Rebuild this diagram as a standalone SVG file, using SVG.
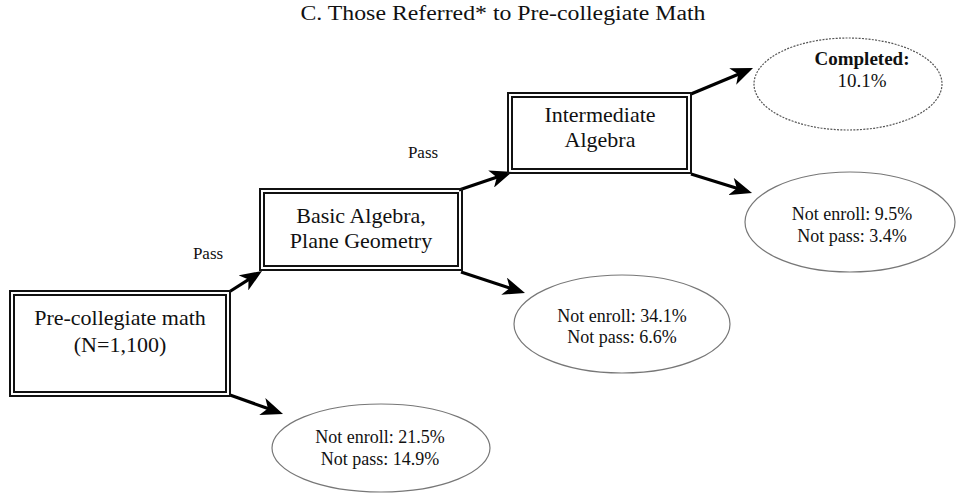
<svg xmlns="http://www.w3.org/2000/svg" width="960" height="494" viewBox="0 0 960 494">
<style>
text{font-family:"Liberation Serif","DejaVu Serif",serif;fill:#111;text-anchor:middle}
.box{fill:none;stroke:#111;stroke-width:2}
.ell{fill:#fff;stroke:#777;stroke-width:1.2}
.dot{stroke-dasharray:2 1.3;stroke:#555}
.big{font-size:22px}
.sm{font-size:18px}
.lbl{font-size:17px}
.arr{fill:none;stroke:#000;stroke-width:3.2;marker-end:url(#ah)}
</style>
<defs>
<marker id="ah" markerUnits="userSpaceOnUse" viewBox="0 0 22 18" refX="12" refY="9" markerWidth="22" markerHeight="18" orient="auto">
<path d="M22,9 L0,0 L6,9 L0,18 Z" fill="#000"/>
</marker>
</defs>
<rect width="960" height="494" fill="#fff"/>
<text x="503" y="20" font-size="20" textLength="405" lengthAdjust="spacingAndGlyphs">C. Those Referred* to Pre-collegiate Math</text>
<g id="connectors">
<path class="arr" d="M229,292 L253.6,276.4"/>
<path class="arr" d="M230,395 L273.6,410.6"/>
<path class="arr" d="M459,190 L502.5,175.2"/>
<path class="arr" d="M461,272 L515.5,289.9"/>
<path class="arr" d="M691,94 L743.8,71.9"/>
<path class="arr" d="M691,174 L742.5,190"/>
<text class="lbl" x="208" y="259">Pass</text>
<text class="lbl" x="423" y="158">Pass</text>
</g>
<g id="precollegiate">
<rect class="box" x="10" y="291" width="220" height="105"/>
<rect class="box" x="14" y="295" width="212" height="97"/>
<text class="big" x="120" y="325">Pre-collegiate math</text>
<text class="big" x="120" y="352">(N=1,100)</text>
</g>
<g id="basic">
<rect class="box" x="260" y="189" width="202" height="81"/>
<rect class="box" x="264" y="193" width="194" height="73"/>
<text class="big" x="361" y="223">Basic Algebra,</text>
<text class="big" x="361" y="248">Plane Geometry</text>
</g>
<g id="intermediate">
<rect class="box" x="508" y="93" width="183" height="80"/>
<rect class="box" x="512" y="97" width="175" height="72"/>
<text class="big" x="600" y="122">Intermediate</text>
<text class="big" x="600" y="147">Algebra</text>
</g>
<g id="completed">
<ellipse class="ell dot" cx="848" cy="84" rx="94" ry="46"/>
<text x="862" y="65" font-size="19" font-weight="bold">Completed:</text>
<text x="862" y="87" font-size="19">10.1%</text>
</g>
<g id="out3">
<ellipse class="ell" cx="850" cy="222" rx="105" ry="50"/>
<text class="sm" x="852" y="220">Not enroll: 9.5%</text>
<text class="sm" x="852" y="242">Not pass: 3.4%</text>
</g>
<g id="out2">
<ellipse class="ell" cx="622" cy="324" rx="108" ry="49"/>
<text class="sm" x="622" y="322">Not enroll: 34.1%</text>
<text class="sm" x="622" y="343">Not pass: 6.6%</text>
</g>
<g id="out1">
<ellipse class="ell" cx="381" cy="448" rx="109" ry="44"/>
<text class="sm" x="380" y="443">Not enroll: 21.5%</text>
<text class="sm" x="380" y="465">Not pass: 14.9%</text>
</g>
</svg>
